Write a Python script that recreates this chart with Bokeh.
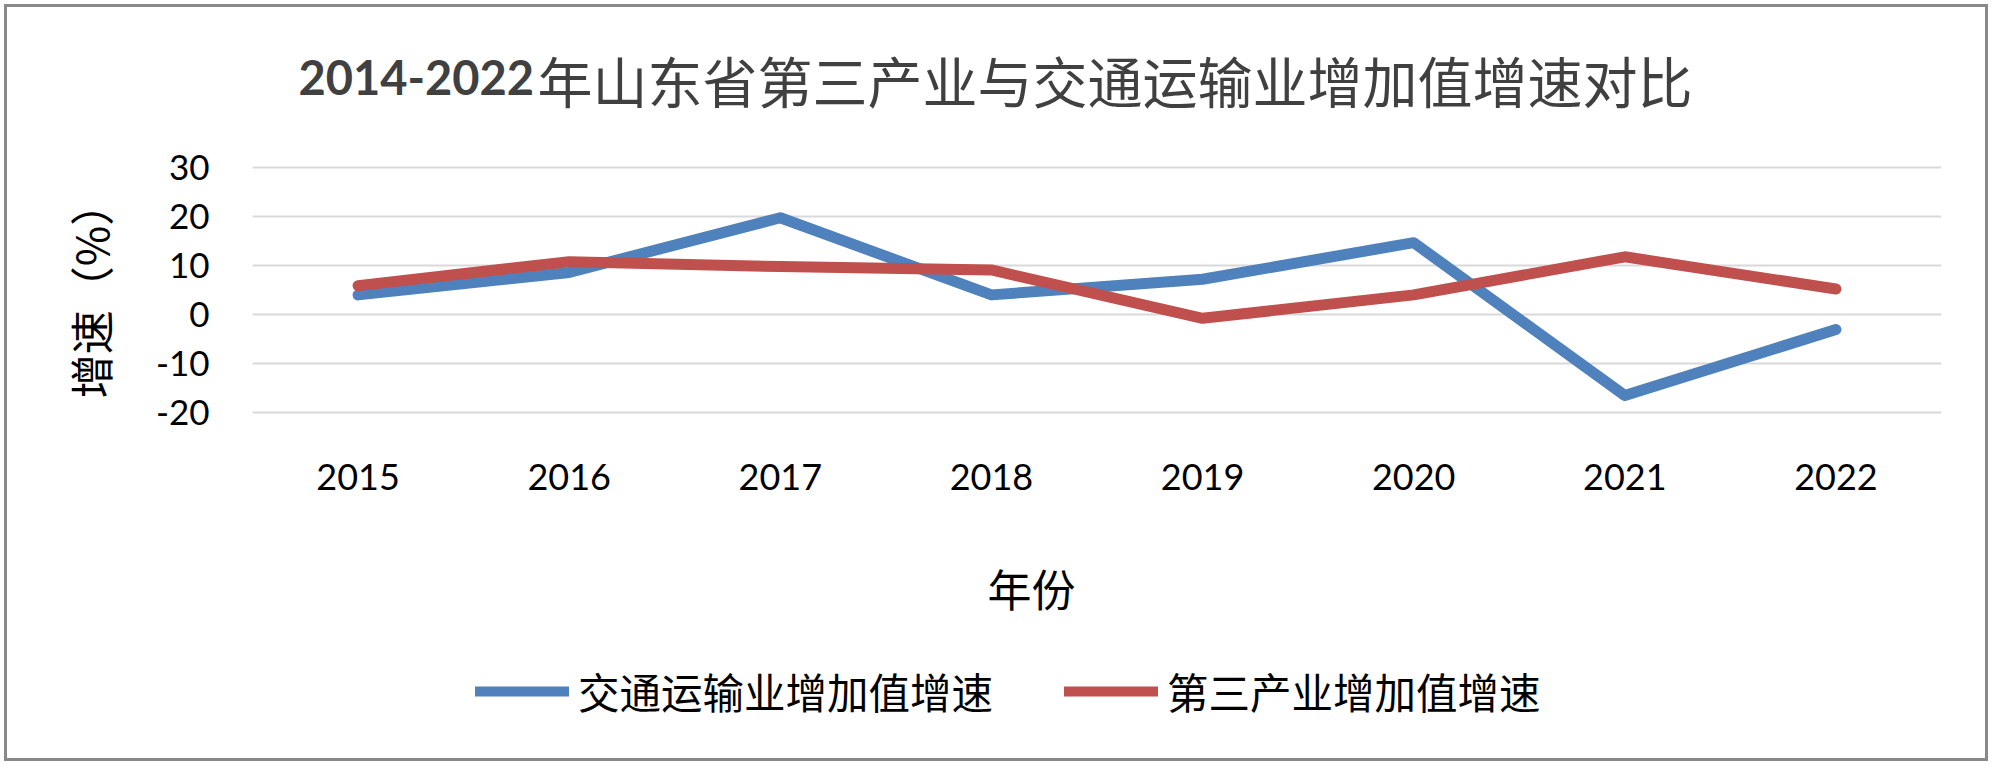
from bokeh.plotting import figure
from bokeh.layouts import column
from bokeh.models import Range1d, FixedTicker, Legend, LegendItem, ColumnDataSource, Label
from bokeh.embed import file_html
from bokeh.resources import INLINE

# ---- data ----
years = ["2015", "2016", "2017", "2018", "2019", "2020", "2021", "2022"]
transport = [4.0, 8.6, 19.8, 4.0, 7.2, 14.7, -16.6, -3.1]
tertiary = [5.9, 10.8, 9.8, 9.1, -0.8, 4.0, 11.8, 5.2]
y_ticks = [-20, -10, 0, 10, 20, 30]
series_names = ["交通运输业增加值增速", "第三产业增加值增速"]
series_colors = ["#4f81bd", "#c0504d"]
title_years = "2014-2022"
title_text = "年山东省第三产业与交通运输业增加值增速对比"
x_title = "年份"
y_title = "增速（%）"

CJK = "Noto Sans CJK SC"
LAT = "Lato"
BORDER = "3px solid #898989"
W = 1984
H_TOP, H_MAIN, H_BOT = 126, 394, 237

idx = list(range(len(years)))
src = ColumnDataSource(dict(x=idx, transport=transport, tertiary=tertiary))


def blank_fig(height, styles, xr=(0, 1)):
    f = figure(width=W, height=height, output_backend="svg", toolbar_location=None,
               x_axis_type=None, y_axis_type=None, min_border=0, frame_align=False,
               x_range=Range1d(*xr), y_range=Range1d(0, 1), styles=styles)
    f.outline_line_color = None
    f.background_fill_color = "white"
    f.border_fill_color = "white"
    return f


# ---------- title strip ----------
top = blank_fig(H_TOP, {"border-top": BORDER, "border-left": BORDER, "border-right": BORDER,
                        "box-sizing": "border-box"})
top.add_layout(Label(x=291, y=56, x_units="screen", y_units="screen", text=title_years,
                     text_font=LAT, text_font_style="bold", text_font_size="47px",
                     text_color="#404040", text_align="left", text_baseline="alphabetic"))
top.add_layout(Label(x=530, y=55, x_units="screen", y_units="screen", text=title_text,
                     text_font=CJK, text_font_style="normal", text_font_size="55px",
                     text_color="#404040", text_align="left", text_baseline="alphabetic"))

# ---------- main chart ----------
p = figure(width=W, height=H_MAIN, output_backend="svg", toolbar_location=None,
           x_range=Range1d(-0.5, len(years) - 0.5),
           y_range=Range1d(min(y_ticks) - 0.5, max(y_ticks) + 0.5),
           min_border_left=245, min_border_right=50, min_border_top=35, min_border_bottom=110,
           frame_align=False, title=None,
           styles={"border-left": BORDER, "border-right": BORDER, "box-sizing": "border-box"})
p.outline_line_color = None
p.background_fill_color = "white"
p.border_fill_color = "white"

p.xgrid.grid_line_color = None
p.ygrid.grid_line_color = "#d9d9d9"
p.ygrid.grid_line_width = 2
p.ygrid.ticker = FixedTicker(ticks=y_ticks)

p.yaxis.ticker = FixedTicker(ticks=y_ticks)
p.yaxis.major_label_overrides = {t: str(t) for t in y_ticks}
p.xaxis.ticker = FixedTicker(ticks=idx)
p.xaxis.major_label_overrides = {i: y for i, y in zip(idx, years)}
for ax in (p.xaxis, p.yaxis):
    ax.axis_line_color = None
    ax.major_tick_line_color = None
    ax.minor_tick_line_color = None
    ax.major_tick_out = 0
    ax.major_tick_in = 0
    ax.minor_tick_out = 0
    ax.major_label_text_font = LAT
    ax.major_label_text_font_size = "35px"
    ax.major_label_text_color = "#000000"
p.yaxis.major_label_standoff = 43
p.xaxis.major_label_standoff = 49
p.xaxis.major_label_text_font_size = "36px"

p.yaxis.axis_label = y_title
p.yaxis.axis_label_text_font = CJK
p.yaxis.axis_label_text_font_size = "44px"
p.yaxis.axis_label_text_font_style = "normal"
p.yaxis.axis_label_text_color = "#000000"
p.yaxis.axis_label_standoff = 31

p.line("x", "transport", source=src, line_color=series_colors[0], line_width=11,
       line_cap="round", line_join="round")
p.line("x", "tertiary", source=src, line_color=series_colors[1], line_width=11,
       line_cap="round", line_join="round")

# ---------- x title + legend strip ----------
# its x range lies away from the data, so the proxy lines below only feed the legend swatches
bot = blank_fig(H_BOT, {"border-bottom": BORDER, "border-left": BORDER, "border-right": BORDER,
                        "box-sizing": "border-box"}, xr=(-100, -99))
bot.add_layout(Label(x=1024, y=174, x_units="screen", y_units="screen", text=x_title,
                     text_font=CJK, text_font_style="normal", text_font_size="44px",
                     text_color="#000000", text_align="center", text_baseline="middle"))
sw1 = bot.line("x", "transport", source=src, line_color=series_colors[0], line_width=10,
               line_cap="round")
sw2 = bot.line("x", "tertiary", source=src, line_color=series_colors[1], line_width=10,
               line_cap="round")
legend = Legend(items=[LegendItem(label=series_names[0], renderers=[sw1]),
                       LegendItem(label=series_names[1], renderers=[sw2])],
                orientation="horizontal", location=(468, 40),
                glyph_width=94, glyph_height=40, label_standoff=9, spacing=71,
                padding=0, margin=0, border_line_color=None, background_fill_alpha=0,
                label_text_font=CJK, label_text_font_size="41.5px", label_text_color="#000000",
                label_text_baseline="middle")
bot.add_layout(legend, "center")

layout = column(top, p, bot, spacing=0, margin=(4, 0, 0, 4))
open("out.html", "w").write(file_html(layout, INLINE))
